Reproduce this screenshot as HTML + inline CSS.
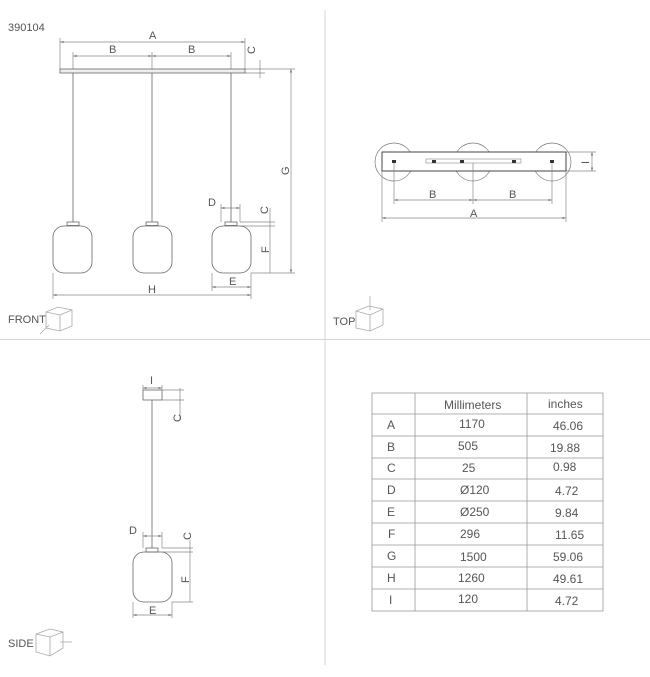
<!DOCTYPE html>
<html><head><style>body{margin:0;background:#fff}svg{display:block}text{font-family:"Liberation Sans",sans-serif;fill:#555}</style></head><body>
<svg width="650" height="677" viewBox="0 0 650 677" xmlns="http://www.w3.org/2000/svg">
<defs><marker id="a" viewBox="0 0 6 6" refX="6" refY="3" markerWidth="5" markerHeight="5" orient="auto-start-reverse"><path d="M0,1L6,3L0,5z" fill="#777"/></marker></defs>
<g stroke="#d6d6d6" stroke-width="1"><line x1="325" y1="10" x2="325" y2="665"/><line x1="0" y1="339.5" x2="650" y2="339.5"/></g>
<text x="8" y="31" font-size="11">390104</text>
<g fill="none" stroke="#888" stroke-width="0.7">
<line x1="60" y1="42" x2="245" y2="42" marker-start="url(#a)" marker-end="url(#a)"/>
<line x1="73" y1="56" x2="152" y2="56" marker-start="url(#a)" marker-end="url(#a)"/>
<line x1="152" y1="56" x2="231" y2="56" marker-start="url(#a)" marker-end="url(#a)"/>
<line x1="60" y1="38" x2="60" y2="69"/><line x1="245" y1="38" x2="245" y2="69"/>
<line x1="73" y1="52" x2="73" y2="69"/><line x1="152" y1="52" x2="152" y2="69"/><line x1="231" y1="52" x2="231" y2="69"/>
<line x1="260" y1="60" x2="260" y2="78"/><line x1="245" y1="69" x2="295" y2="69"/><line x1="245" y1="73" x2="265" y2="73"/>
<line x1="291" y1="69" x2="291" y2="273" marker-start="url(#a)" marker-end="url(#a)"/>
<line x1="251" y1="273" x2="295" y2="273"/>
<line x1="270" y1="208" x2="270" y2="273"/><line x1="240" y1="222" x2="275" y2="222"/><line x1="240" y1="226" x2="275" y2="226"/>
<line x1="221" y1="208" x2="240" y2="208" marker-start="url(#a)" marker-end="url(#a)"/>
<line x1="221" y1="204" x2="221" y2="222"/><line x1="240" y1="204" x2="240" y2="222"/>
<line x1="212" y1="287" x2="251" y2="287" marker-start="url(#a)" marker-end="url(#a)"/>
<line x1="212" y1="273" x2="212" y2="291"/><line x1="251" y1="273" x2="251" y2="299"/>
<line x1="53" y1="295" x2="251" y2="295" marker-start="url(#a)" marker-end="url(#a)"/>
<line x1="53" y1="273" x2="53" y2="299"/>
</g>
<rect x="60" y="69" width="185" height="4" fill="#eee" stroke="#666" stroke-width="0.8"/>
<g stroke="#666" stroke-width="0.8" fill="none">
<line x1="73" y1="73" x2="73" y2="222"/><line x1="152" y1="73" x2="152" y2="222"/><line x1="231" y1="73" x2="231" y2="222"/>
<rect x="67" y="222" width="12" height="3.5"/><rect x="146" y="222" width="12" height="3.5"/><rect x="225" y="222" width="12" height="3.5"/>
<rect x="53" y="226" width="39" height="47" rx="11"/><rect x="133" y="226" width="39" height="47" rx="11"/><rect x="212" y="226" width="39" height="47" rx="11"/>
</g>
<g font-size="11">
<text x="149" y="39">A</text><text x="109" y="53">B</text><text x="188" y="53">B</text>
<text x="148" y="293">H</text><text x="229" y="285">E</text><text x="208" y="206">D</text>
<text transform="translate(255,54) rotate(-90)">C</text>
<text transform="translate(268,214) rotate(-90)">C</text>
<text transform="translate(269,253) rotate(-90)">F</text>
<text transform="translate(289,175) rotate(-90)">G</text>
</g>
<text x="8" y="323" font-size="11">FRONT</text>
<g stroke="#aaa" fill="none" stroke-width="0.8"><path d="M46,312 L58,307 L72,310 L72,326 L60,331 L46,328 Z M46,312 L60,315 L72,310 M60,315 L60,331"/><line x1="40" y1="334" x2="49" y2="325"/></g>
<g stroke="#777" stroke-width="0.7" fill="none">
<circle cx="394" cy="162" r="19"/><circle cx="473" cy="162" r="19"/><circle cx="552" cy="162" r="19"/>
</g>
<rect x="382" y="152" width="184" height="19" fill="#fff" stroke="#444" stroke-width="1"/>
<rect x="426" y="159" width="95" height="4" fill="none" stroke="#888" stroke-width="0.6"/>
<g fill="#333"><rect x="392" y="160" width="4" height="3"/><rect x="550" y="160" width="4" height="3"/><rect x="432" y="160" width="4" height="3"/><rect x="460" y="160" width="4" height="3"/><rect x="512" y="160" width="4" height="3"/></g>
<g fill="none" stroke="#888" stroke-width="0.7">
<line x1="394" y1="163" x2="394" y2="204"/><line x1="473" y1="163" x2="473" y2="204"/><line x1="552" y1="163" x2="552" y2="204"/>
<line x1="382" y1="171" x2="382" y2="222"/><line x1="566" y1="171" x2="566" y2="222"/>
<line x1="394" y1="200" x2="473" y2="200" marker-start="url(#a)" marker-end="url(#a)"/>
<line x1="473" y1="200" x2="552" y2="200" marker-start="url(#a)" marker-end="url(#a)"/>
<line x1="382" y1="218" x2="566" y2="218" marker-start="url(#a)" marker-end="url(#a)"/>
<line x1="566" y1="152" x2="596" y2="152"/><line x1="566" y1="171" x2="596" y2="171"/>
<line x1="592" y1="152" x2="592" y2="171" marker-start="url(#a)" marker-end="url(#a)"/>
</g>
<g font-size="11"><text x="429" y="198">B</text><text x="509" y="198">B</text><text x="470" y="217">A</text><text transform="translate(589,164) rotate(-90)">I</text></g>
<text x="333" y="325" font-size="11">TOP</text>
<g stroke="#aaa" fill="none" stroke-width="0.8"><path d="M356,311 L369,306 L383,309 L383,325 L370,331 L356,328 Z M356,311 L370,315 L383,309 M370,315 L370,331"/><line x1="370" y1="296" x2="370" y2="310"/></g>
<rect x="143" y="390" width="19" height="10" fill="#fff" stroke="#666" stroke-width="0.8"/>
<g stroke="#666" stroke-width="0.8" fill="none">
<line x1="152" y1="400" x2="152" y2="548"/><rect x="146" y="548" width="12" height="4"/>
<rect x="133" y="552" width="39" height="50" rx="11"/>
</g>
<g fill="none" stroke="#888" stroke-width="0.7">
<line x1="143" y1="388" x2="162" y2="388" marker-start="url(#a)" marker-end="url(#a)"/>
<line x1="143" y1="385" x2="143" y2="390"/><line x1="162" y1="385" x2="162" y2="390"/>
<line x1="162" y1="390" x2="184" y2="390"/><line x1="162" y1="400" x2="184" y2="400"/><line x1="180" y1="388" x2="180" y2="420"/>
<line x1="143" y1="536" x2="162" y2="536" marker-start="url(#a)" marker-end="url(#a)"/>
<line x1="143" y1="532" x2="143" y2="548"/><line x1="162" y1="532" x2="162" y2="548"/>
<line x1="162" y1="548" x2="193" y2="548"/><line x1="162" y1="552" x2="193" y2="552"/><line x1="172" y1="602" x2="193" y2="602"/>
<line x1="190" y1="540" x2="190" y2="602"/>
<line x1="133" y1="615" x2="172" y2="615" marker-start="url(#a)" marker-end="url(#a)"/>
<line x1="133" y1="602" x2="133" y2="618"/><line x1="172" y1="602" x2="172" y2="618"/>
</g>
<g font-size="11"><text x="150" y="384">I</text><text x="129" y="534">D</text><text x="149" y="614">E</text>
<text transform="translate(181,422) rotate(-90)">C</text><text transform="translate(191,540) rotate(-90)">C</text><text transform="translate(189,583) rotate(-90)">F</text></g>
<text x="8" y="647" font-size="11">SIDE</text>
<g stroke="#aaa" fill="none" stroke-width="0.8"><path d="M36,634 L50,629 L63,632 L63,648 L50,656 L36,652 Z M36,634 L50,637 L63,632 M50,637 L50,656"/><line x1="60" y1="642" x2="72" y2="642"/></g>
<g stroke="#999" stroke-width="0.8" fill="none">
<rect x="372" y="393" width="231" height="218"/>
<line x1="415" y1="393" x2="415" y2="611"/><line x1="527" y1="393" x2="527" y2="611"/>
<line x1="372" y1="414" x2="603" y2="414"/><line x1="372" y1="436" x2="603" y2="436"/><line x1="372" y1="458" x2="603" y2="458"/><line x1="372" y1="479" x2="603" y2="479"/><line x1="372" y1="501" x2="603" y2="501"/><line x1="372" y1="523" x2="603" y2="523"/><line x1="372" y1="545" x2="603" y2="545"/><line x1="372" y1="567" x2="603" y2="567"/><line x1="372" y1="589" x2="603" y2="589"/>
</g>
<g font-size="12" fill="#444">
<text x="444" y="409">Millimeters</text><text x="548" y="408">inches</text>
<text x="387" y="429">A</text><text x="459" y="428">1170</text><text x="553" y="430">46.06</text>
<text x="387" y="451">B</text><text x="458" y="450">505</text><text x="550" y="452">19.88</text>
<text x="387" y="472">C</text><text x="462" y="472">25</text><text x="553" y="471">0.98</text>
<text x="387" y="494">D</text><text x="460" y="494">Ø120</text><text x="555" y="495">4.72</text>
<text x="387" y="516">E</text><text x="460" y="516">Ø250</text><text x="555" y="517">9.84</text>
<text x="388" y="538">F</text><text x="460" y="538">296</text><text x="555" y="539">11.65</text>
<text x="387" y="560">G</text><text x="460" y="561">1500</text><text x="553" y="561">59.06</text>
<text x="387" y="582">H</text><text x="458" y="582">1260</text><text x="553" y="583">49.61</text>
<text x="389" y="604">I</text><text x="458" y="603">120</text><text x="555" y="605">4.72</text>
</g>
</svg>
</body></html>
